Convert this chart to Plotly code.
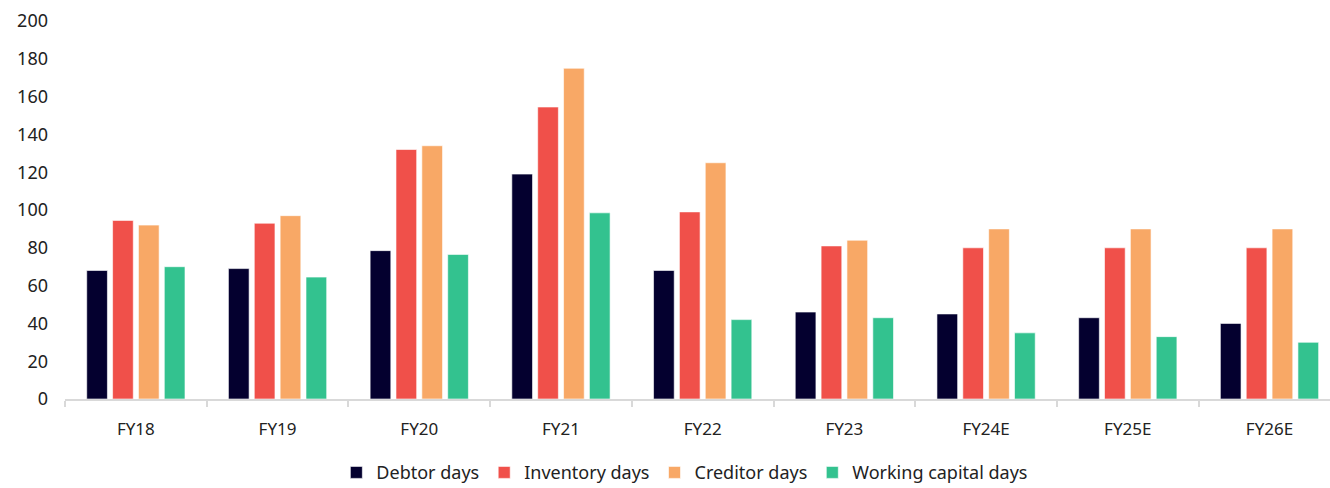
import plotly.graph_objects as go

# Fiscal years (E = estimate)
years = ["FY18", "FY19", "FY20", "FY21", "FY22", "FY23", "FY24E", "FY25E", "FY26E"]

debtor_days = [68, 69, 78.5, 119, 68, 46, 45, 43, 40]
inventory_days = [94.5, 93, 132, 154.5, 99, 81, 80, 80, 80]
creditor_days = [92, 97, 134, 175, 125, 84, 90, 90, 90]
working_capital_days = [70, 64.5, 76.5, 98.5, 42, 43, 35, 33, 30]

series = [
    ("Debtor days", debtor_days, "#04002F"),
    ("Inventory days", inventory_days, "#F0504A"),
    ("Creditor days", creditor_days, "#F8A866"),
    ("Working capital days", working_capital_days, "#33C28F"),
]

FONT = "Noto Sans, Open Sans, sans-serif"

fig = go.Figure()
for name, vals, color in series:
    fig.add_trace(go.Bar(
        x=years, y=vals, name=name,
        marker=dict(color=color, line=dict(color="rgba(255,255,255,0.6)", width=1)),
    ))

fig.update_layout(
    width=1330, height=488,
    margin=dict(l=65, r=0, t=21, b=89, autoexpand=False),
    paper_bgcolor="white", plot_bgcolor="white",
    barmode="group", bargap=0.27, bargroupgap=0.2,
    font=dict(family=FONT, size=18, color="#222222"),
    showlegend=True,
    legend=dict(
        orientation="h", x=0.49, xanchor="center",
        y=-0.146, yanchor="top",
        font=dict(size=18, color="#222222"), itemwidth=30, tracegroupgap=0,
    ),
)
fig.update_xaxes(
    type="category", range=[-0.5, 8.427], automargin=False,
    showline=True, linecolor="#D9D9D9", linewidth=2,
    ticks="outside", tickson="boundaries", ticklen=6, tickcolor="#D9D9D9", tickwidth=2,
    tickfont=dict(size=17, color="#222222"), showgrid=False, ticklabelstandoff=14,
)
fig.update_yaxes(
    range=[0, 200], dtick=20, showgrid=False, showline=False, zeroline=False,
    automargin=False,
    tickfont=dict(size=18, color="#222222"), ticks="", ticklabelstandoff=16,
)

fig.write_html("out.html")
